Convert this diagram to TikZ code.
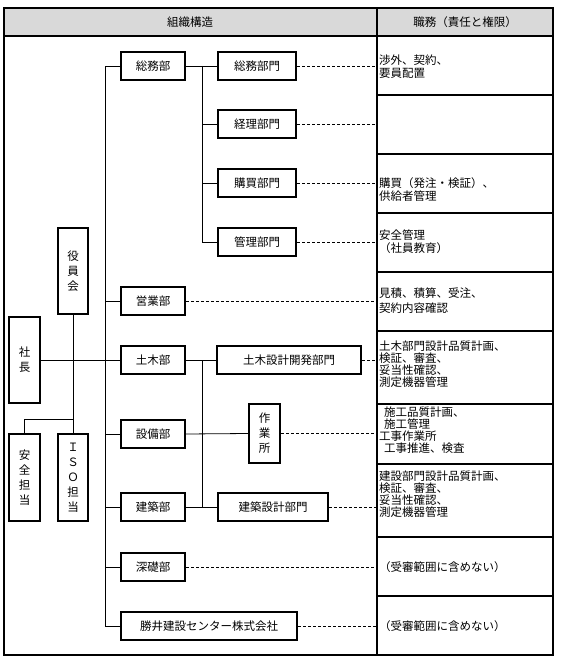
\documentclass[tikz,border=0pt]{standalone}
\usepackage{fontspec}
\setmainfont{Noto Sans CJK JP}

\begin{document}
\begin{tikzpicture}[x=1pt,y=-1pt,line join=miter,
    every node/.style={font=\fontsize{11.5}{14}\selectfont},
    ufficio/.style={draw,line width=2pt,inner sep=0pt,minimum height=28pt,align=center},
    verticale/.style={ufficio,font=\fontsize{11.5}{15}\selectfont},
    collegamento/.style={line width=.8pt},
    tratteggio/.style={line width=.8pt,dash pattern=on 3pt off 2pt},
    compito/.style={anchor=west,inner sep=0pt,align=left,font=\fontsize{11.5}{13}\selectfont}]
  \definecolor{organigrammaTestata}{HTML}{D9D9D9}
  \useasboundingbox (0,0) rectangle (561,661);

  % Tabella: testata grigia, due colonne, righe dei compiti.
  \fill[organigrammaTestata] (4,8) rectangle (553,36);
  \draw[line width=2pt] (4,8) rectangle (553,655);
  \draw[line width=2pt] (4,36) -- (553,36);
  \draw[line width=2pt] (377,8) -- (377,655);
  \foreach \y in {95,154,213,272,331,404,464,537,596}{
    \draw[line width=2pt] (377,\y) -- (553,\y);
  }
  \node (titoloStruttura) at (190,22) {組織構造};
  \node (titoloCompiti) at (465,22) {職務（責任と権限）};

  % Vertici dell'azienda.
  \node[verticale,minimum width=31pt,minimum height=86pt] (shacho) at (24.5,360) {社\\長};
  \node[verticale,minimum width=30pt,minimum height=86pt] (yakuin) at (73,271) {役\\員\\会};
  \node[verticale,minimum width=31pt,minimum height=87pt] (anzen) at (24.5,477.5) {安\\全\\担\\当};
  \node[verticale,minimum width=30pt,minimum height=87pt] (iso) at (73,477.5) {Ｉ\\Ｓ\\Ｏ\\担\\当};

  % Dipartimenti sulla dorsale sinistra.
  \node[ufficio,minimum width=64pt] (somu) at (153,66) {総務部};
  \node[ufficio,minimum width=64pt] (eigyo) at (153,301) {営業部};
  \node[ufficio,minimum width=64pt] (doboku) at (153,360) {土木部};
  \node[ufficio,minimum width=64pt] (setsubi) at (153,434) {設備部};
  \node[ufficio,minimum width=64pt] (kenchiku) at (153,507) {建築部};
  \node[ufficio,minimum width=64pt] (shinso) at (153,567) {深礎部};
  \node[ufficio,minimum width=176pt] (katsui) at (209,626) {勝井建設センター株式会社};

  % Sezioni dei dipartimenti.
  \node[ufficio,minimum width=78pt] (somubumon) at (257,66) {総務部門};
  \node[ufficio,minimum width=78pt] (keiri) at (257,124) {経理部門};
  \node[ufficio,minimum width=78pt] (kobai) at (257,183) {購買部門};
  \node[ufficio,minimum width=78pt] (kanri) at (257,242) {管理部門};
  \node[ufficio,minimum width=144pt] (dobokusekkei) at (289,360) {土木設計開発部門};
  \node[verticale,minimum width=31pt,minimum height=59pt] (sagyo) at (264.5,433.5) {作\\業\\所};
  \node[ufficio,minimum width=110pt] (kenchikusekkei) at (273,507) {建築設計部門};

  % Linee di collegamento.
  \coordinate (dorsale) at (105,0);
  \coordinate (dorsaleUffici) at (202,0);
  \coordinate (colonna) at (377,0);
  \coordinate (bivio) at (73,419);
  \draw[collegamento] (somu.west) -| (dorsale |- katsui.west) -- (katsui.west);
  \foreach \n in {eigyo,setsubi,kenchiku,shinso}{
    \draw[collegamento] (\n.west) -- (\n.west -| dorsale);
  }
  \draw[collegamento] (shacho.east) -- (doboku.west);
  \draw[collegamento] (yakuin.south) -- (iso.north);
  \draw[collegamento] (anzen.north) |- (bivio);
  \draw[collegamento] (somu.east) -- (somubumon.west);
  \draw[collegamento] (somu.east -| dorsaleUffici) |- (kanri.west);
  \foreach \n in {keiri,kobai}{
    \draw[collegamento] (\n.west) -- (\n.west -| dorsaleUffici);
  }
  \draw[collegamento] (doboku.east) -- (dobokusekkei.west);
  \draw[collegamento] (doboku.east -| dorsaleUffici) |- (kenchikusekkei.west);
  \draw[collegamento] (kenchiku.east) -- (kenchikusekkei.west);
  \draw[collegamento] (setsubi.east) -- (sagyo.west);
  \foreach \n in {somubumon,keiri,kobai,kanri,eigyo,dobokusekkei,sagyo,kenchikusekkei,shinso,katsui}{
    \draw[tratteggio] (\n.east) -- (\n.east -| colonna);
  }

  % Compiti nella colonna di destra.
  \node[compito] (compitoSomu) at (379,66.5) {渉外、契約、\\要員配置};
  \node[compito] (compitoKobai) at (379,190) {購買（発注・検証）、\\供給者管理};
  \node[compito] (compitoKanri) at (379,241.5) {安全管理\\（社員教育）};
  \node[compito,font=\fontsize{11.5}{15}\selectfont] (compitoEigyo) at (379,300.5) {見積、積算、受注、\\契約内容確認};
  \node[compito,font=\fontsize{11.5}{12}\selectfont] (compitoDoboku) at (379,364) {土木部門設計品質計画、\\検証、審査、\\妥当性確認、\\測定機器管理};
  \node[compito,font=\fontsize{11.5}{12}\selectfont] (compitoSagyo) at (379,430) {\hspace*{5pt}施工品質計画、\\\hspace*{5pt}施工管理\\工事作業所\\\hspace*{5pt}工事推進、検査};
  \node[compito,font=\fontsize{11.5}{12}\selectfont] (compitoKenchiku) at (379,494.5) {建設部門設計品質計画、\\検証、審査、\\妥当性確認、\\測定機器管理};
  \node[compito] (compitoShinso) at (379,567) {（受審範囲に含めない）};
  \node[compito] (compitoKatsui) at (379,626) {（受審範囲に含めない）};
\end{tikzpicture}
\end{document}
